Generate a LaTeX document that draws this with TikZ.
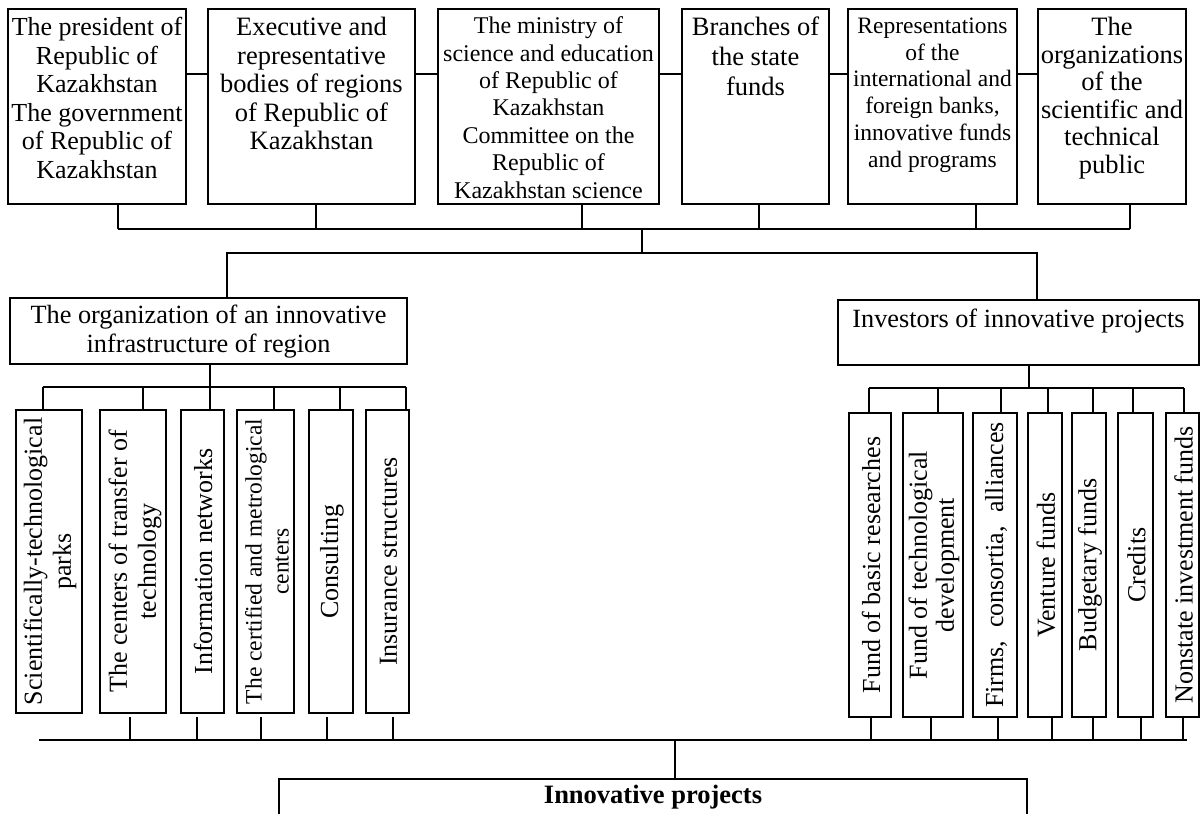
\documentclass[tikz,border=0pt]{standalone}
\usepackage{fontspec}
\setmainfont{Liberation Serif}
\begin{document}
\begin{tikzpicture}[x=1pt,y=-1pt,
  ln/.style={line width=1.8pt},
  box/.style={draw,line width=1.8pt,inner sep=0pt},
  txt/.style={inner sep=0pt,align=center,anchor=north},
  vtxt/.style={inner sep=0pt,align=center,rotate=90,font=\fontsize{26}{29}\selectfont},
  fA/.style={font=\fontsize{26}{28.5}\selectfont},
]
\useasboundingbox (0,0) rectangle (1200,814);

% ---------- top row ----------
\node[box,minimum width=178pt,minimum height=195pt] (t1) at (97,106.5) {};
\node[box,minimum width=207pt,minimum height=195pt] (t2) at (311.5,106.5) {};
\node[box,minimum width=221pt,minimum height=195pt] (t3) at (548.5,106.5) {};
\node[box,minimum width=147pt,minimum height=195pt] (t4) at (755.5,106.5) {};
\node[box,minimum width=169pt,minimum height=195pt] (t5) at (932.5,106.5) {};
\node[box,minimum width=148pt,minimum height=195pt] (t6) at (1112,106.5) {};

\node[txt,fA] (t1x) at (97,17) {The president of\\Republic of\\Kazakhstan\\The government\\of Republic of\\Kazakhstan};
\node[txt,font=\fontsize{26.5}{28.5}\selectfont] (t2x) at (311.5,17) {Executive and\\representative\\bodies of regions\\of Republic of\\Kazakhstan};
\node[txt,font=\fontsize{24}{27.4}\selectfont] (t3x) at (548.5,16.5) {The ministry of\\science and education\\of Republic of\\Kazakhstan\\Committee on the\\Republic of\\Kazakhstan science};
\node[txt,font=\fontsize{26.5}{30}\selectfont] (t4x) at (755.5,17) {Branches of\\the state\\funds};
\node[txt,font=\fontsize{23.5}{26.8}\selectfont] (t5x) at (932.5,17.5) {Representations\\of the\\international and\\foreign banks,\\innovative funds\\and programs};
\node[txt,font=\fontsize{26.5}{27.5}\selectfont] (t6x) at (1112,17) {The\\organizations\\of the\\scientific and\\technical\\public};

\draw[ln] (t1.east |- 0,74) -- (t2.west |- 0,74);
\draw[ln] (t2.east |- 0,74) -- (t3.west |- 0,74);
\draw[ln] (t3.east |- 0,74) -- (t4.west |- 0,74);
\draw[ln] (t4.east |- 0,74) -- (t5.west |- 0,74);
\draw[ln] (t5.east |- 0,74) -- (t6.west |- 0,74);

% top bus
\coordinate (busTL) at (118,229);
\coordinate (busTR) at (1130,229);
\draw[ln] (busTL) -- (busTR);
\draw[ln] (118,0 |- t1.south) -- (118,229);
\draw[ln] (316,0 |- t2.south) -- (316,229);
\draw[ln] (582,0 |- t3.south) -- (582,229);
\draw[ln] (759,0 |- t4.south) -- (759,229);
\draw[ln] (976,0 |- t5.south) -- (976,229);
\draw[ln] (1130,0 |- t6.south) -- (1130,229);

% ---------- middle ----------
\node[box,minimum width=397pt,minimum height=66pt] (m1) at (208.5,331) {};
\node[inner sep=0pt,align=center,font=\fontsize{26.3}{29}\selectfont] (m1x) at (208.5,332) {The organization of an innovative\\infrastructure of region};
\node[box,minimum width=361pt,minimum height=65pt] (m2) at (1018.5,332.5) {};
\node[txt,font=\fontsize{26.3}{29}\selectfont] (m2x) at (1018.5,309) {Investors of innovative projects};

\coordinate (midC) at (642,253);
\draw[ln] (642,229) -- (midC);
\draw[ln] (227,0 |- m1.north) -- (227,253) -- (1037,253) -- (1037,0 |- m2.north);

% ---------- left column boxes ----------
\node[box,minimum width=66pt,minimum height=303pt] (l1) at (49,561.5) {};
\node[box,minimum width=66pt,minimum height=303pt] (l2) at (133,561.5) {};
\node[box,minimum width=43pt,minimum height=303pt] (l3) at (202.5,561.5) {};
\node[box,minimum width=57pt,minimum height=303pt] (l4) at (265.5,561.5) {};
\node[box,minimum width=44pt,minimum height=303pt] (l5) at (331,561.5) {};
\node[box,minimum width=43pt,minimum height=303pt] (l6) at (387.5,561.5) {};

\node[vtxt] (l1x) at (50,561.5) {Scientifically-technological\\parks};
\node[vtxt] (l2x) at (135,561.5) {The centers of transfer of\\technology};
\node[vtxt] (l3x) at (203,561.5) {Information networks};
\node[vtxt,font=\fontsize{23.5}{27}\selectfont] (l4x) at (267,561.5) {The certified and metrological\\centers};
\node[vtxt] (l5x) at (332,561.5) {Consulting};
\node[vtxt] (l6x) at (388.5,561.5) {Insurance structures};

\draw[ln] (210,0 |- m1.south) -- (210,387);
\draw[ln] (43,387) -- (406,387);
\draw[ln] (43,387) -- (43,0 |- l1.north);
\draw[ln] (143,387) -- (143,0 |- l2.north);
\draw[ln] (210,387) -- (210,0 |- l3.north);
\draw[ln] (274,387) -- (274,0 |- l4.north);
\draw[ln] (340,387) -- (340,0 |- l5.north);
\draw[ln] (406,387) -- (406,0 |- l6.north);

% ---------- right column boxes ----------
\node[box,minimum width=42pt,minimum height=304pt] (r1) at (870,565) {};
\node[box,minimum width=60pt,minimum height=304pt] (r2) at (933,565) {};
\node[box,minimum width=44pt,minimum height=304pt] (r3) at (995,565) {};
\node[box,minimum width=34pt,minimum height=304pt] (r4) at (1045,565) {};
\node[box,minimum width=34pt,minimum height=304pt] (r5) at (1089,565) {};
\node[box,minimum width=35pt,minimum height=304pt] (r6) at (1135.5,565) {};
\node[box,minimum width=33pt,minimum height=304pt] (r7) at (1182.5,565) {};

\node[vtxt] (r1x) at (871,565) {Fund of basic researches};
\node[vtxt,font=\fontsize{26}{27}\selectfont] (r2x) at (934,565) {Fund of technological\\development};
\node[vtxt] (r3x) at (996,565) {Firms, \ consortia, \ alliances};
\node[vtxt] (r4x) at (1046,565) {Venture funds};
\node[vtxt] (r5x) at (1090,565) {Budgetary funds};
\node[vtxt] (r6x) at (1136.5,565) {Credits};
\node[vtxt] (r7x) at (1183.5,565) {Nonstate investment funds};

\draw[ln] (1029,0 |- m2.south) -- (1029,388);
\draw[ln] (869,388) -- (1184,388);
\draw[ln] (869,388) -- (869,0 |- r1.north);
\draw[ln] (938,388) -- (938,0 |- r2.north);
\draw[ln] (1001,388) -- (1001,0 |- r3.north);
\draw[ln] (1048,388) -- (1048,0 |- r4.north);
\draw[ln] (1093,388) -- (1093,0 |- r5.north);
\draw[ln] (1133,388) -- (1133,0 |- r6.north);
\draw[ln] (1184,388) -- (1184,0 |- r7.north);

% ---------- bottom bus ----------
\coordinate (busBL) at (39,740);
\coordinate (busBR) at (1187,740);
\draw[ln] (busBL) -- (busBR);
\draw[ln] (130,717) -- (130,740);
\draw[ln] (197,717) -- (197,740);
\draw[ln] (261,717) -- (261,740);
\draw[ln] (327,717) -- (327,740);
\draw[ln] (393,717) -- (393,740);
\draw[ln] (871,0 |- r1.south) -- (871,740);
\draw[ln] (931,0 |- r2.south) -- (931,740);
\draw[ln] (998,0 |- r3.south) -- (998,740);
\draw[ln] (1052,0 |- r4.south) -- (1052,740);
\draw[ln] (1093,0 |- r5.south) -- (1093,740);
\draw[ln] (1141,0 |- r6.south) -- (1141,740);
\draw[ln] (1183,0 |- r7.south) -- (1183,740);

% ---------- bottom box ----------
\node[box,minimum width=748pt,minimum height=60pt,anchor=north] (bot) at (653,778) {};
\draw[ln] (675,740) -- (bot.north -| 675,0);
\node[inner sep=0pt,anchor=base,font=\bfseries\fontsize{26.5}{28}\selectfont] (botx) at (653,803) {Innovative projects};
\end{tikzpicture}
\end{document}
